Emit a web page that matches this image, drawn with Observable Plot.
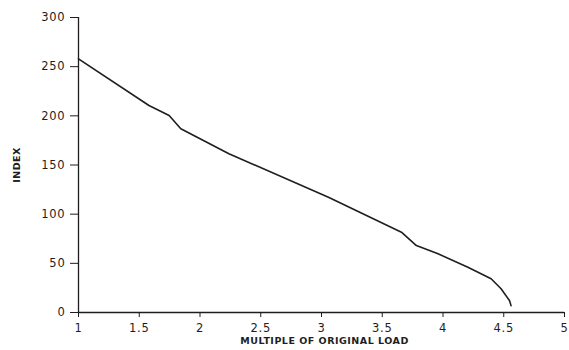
<!DOCTYPE html>
<html>
<head>
<meta charset="utf-8">
<script src="https://cdn.jsdelivr.net/npm/d3@7"></script>
<script src="https://cdn.jsdelivr.net/npm/@observablehq/plot@0.6"></script>
<style>
  html, body { margin: 0; padding: 0; background: #fff; }
  #chart svg { display: block; }
  #chart g[aria-label$="tick label"] text { letter-spacing: 0.8px; }
  #chart g[aria-label="text"] text { letter-spacing: 0.5px; }
</style>
</head>
<body>
<div id="chart"></div>
<script>
// Values
const load  = [1.0, 1.58, 1.746, 1.842, 2.238, 3.057, 3.658, 3.781, 3.959, 4.205, 4.396, 4.478, 4.547, 4.56];
const index = [258, 210.5, 200.3, 186.8, 161.4, 117.3, 81.7, 68.1, 59.7, 46.1, 34.3, 24.1, 12.2, 7];
const xTicks = [1, 1.5, 2, 2.5, 3, 3.5, 4, 4.5, 5];
const yTicks = [0, 50, 100, 150, 200, 250, 300];
const xTitle = "MULTIPLE OF ORIGINAL LOAD";
const yTitle = "INDEX";

const data = load.map((x, i) => ({x, y: index[i]}));
const ink = "#1e1e1e";

const chart = Plot.plot({
  width: 569,
  height: 350,
  marginLeft: 78,
  marginRight: 5,
  marginTop: 17,
  marginBottom: 38,
  style: {fontFamily: "DejaVu Sans, sans-serif", background: "#fff", color: ink},
  x: {domain: [1, 5]},
  y: {domain: [0, 300]},
  marks: [
    Plot.ruleX([1], {stroke: ink, strokeWidth: 1.3}),
    Plot.ruleY([0], {stroke: ink, strokeWidth: 1.3}),
    Plot.axisY({ticks: yTicks, tickSize: 8, tickPadding: 5, label: null, fontSize: 11.5, stroke: ink, tickFormat: d => String(d)}),
    Plot.axisX({ticks: xTicks, tickSize: 5, tickPadding: 6, label: null, fontSize: 11.5, stroke: ink, tickFormat: d => String(d)}),
    Plot.line(data, {x: "x", y: "y", stroke: ink, strokeWidth: 1.6}),
    Plot.text([xTitle], {frameAnchor: "bottom", dy: 31, dx: 3, fontSize: 9.5, fontWeight: "bold", fill: ink}),
    Plot.text([yTitle], {frameAnchor: "left", textAnchor: "middle", dx: -62, dy: 0, rotate: -90, fontSize: 9.5, fontWeight: "bold", fill: ink})
  ]
});
document.getElementById("chart").appendChild(chart);
</script>
</body>
</html>
